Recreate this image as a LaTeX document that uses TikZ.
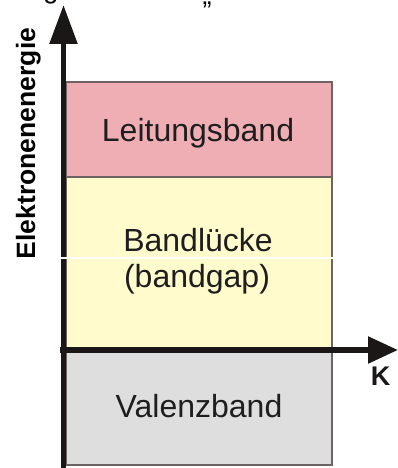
\documentclass[tikz,border=0pt]{standalone}
\usepackage{fontspec}
\setmainfont{Liberation Sans}
\usetikzlibrary{arrows.meta}
\definecolor{cband}{HTML}{EEAEB4}
\definecolor{gapc}{HTML}{FFFBCC}
\definecolor{valc}{HTML}{DEDEDE}
\definecolor{edgec}{HTML}{6E6262}
\definecolor{txtc}{HTML}{1E1E1E}
\definecolor{axc}{HTML}{1A1716}
\tikzset{
  band/.style={draw=edgec,line width=1.8pt},
  bandtext/.style={text=txtc,font=\fontsize{32}{36}\selectfont,anchor=base,inner sep=0pt},
  axis/.style={draw=axc,line width=5.5pt},
}
\begin{document}
\begin{tikzpicture}[x=1pt,y=-1pt]
\useasboundingbox (0,0) rectangle (398,468);
% cut text of the previous line
\node[anchor=base,font=\fontsize{27}{30}\selectfont,inner sep=0pt] (cutg) at (51,-1) {g};
\node[anchor=base,font=\fontsize{27}{30}\selectfont,inner sep=0pt] (cutq) at (207,5) {„};
% bands
\path[band,fill=cband] (66,82) rectangle (332,177);
\path[band,fill=gapc] (66,177) rectangle (332,350);
\path[band,fill=valc] (66,350) rectangle (332,465);
\node[bandtext] (lb) at (198,142) {Leitungsband};
\node[bandtext] (bl) at (198,251) {Bandlücke};
\node[bandtext] (bg) at (197,287) {(bandgap)};
\node[bandtext] (vb) at (199,417) {Valenzband};
% axes
\coordinate (ybot) at (63.5,470);
\coordinate (ytop) at (63.5,5);
\coordinate (xl) at (60,350);
\coordinate (xr) at (398,350);
\draw[axis,-{Triangle[length=39pt,width=27pt]}] (ybot) -- (ytop);
\draw[axis,-{Triangle[length=30pt,width=26pt]}] (xl) -- (xr);
\node[font=\bfseries\fontsize{26.5}{30}\selectfont,rotate=90,anchor=base,inner sep=0pt] (ylab) at (35,143.5) {Elektronenenergie};
\node[font=\bfseries\fontsize{27}{28}\selectfont,text=axc,anchor=base,inner sep=0pt] (k) at (380.5,385) {K};
% white artifact line
\draw[white,line width=1.5pt] (0,258) -- (333,258);
\end{tikzpicture}
\end{document}
